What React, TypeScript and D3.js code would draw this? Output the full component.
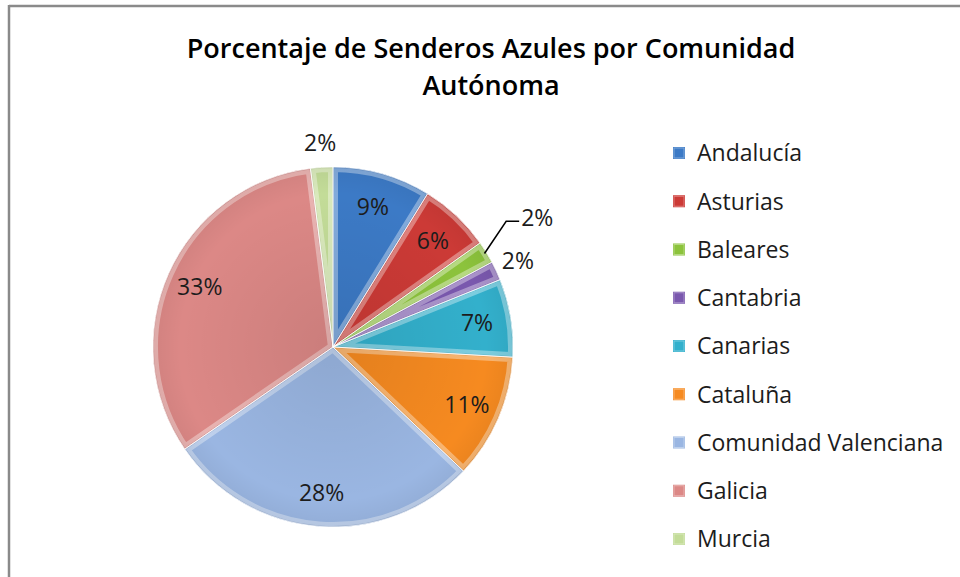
import React from "react";
import * as d3 from "d3";

const categories = [
  "Andalucía",
  "Asturias",
  "Baleares",
  "Cantabria",
  "Canarias",
  "Cataluña",
  "Comunidad Valenciana",
  "Galicia",
  "Murcia",
];
const values = [8.8, 6.4, 2.0, 1.7, 7.0, 11.2, 28.3, 32.6, 2.0];
const colors = [
  "#3c7ac6",
  "#cc3a36",
  "#8cc33c",
  "#7a58ae",
  "#33b0cc",
  "#f68a20",
  "#9ab6e2",
  "#dc8886",
  "#c3dc98",
];
const title = ["Porcentaje de Senderos Azules por Comunidad", "Autónoma"];

const W = 960;
const H = 577;
const cx = 333;
const cy = 347;
const R = 180;
const FONT = "'Open Sans', 'Noto Sans', sans-serif";

export default function App() {
  const total = d3.sum(values);
  const pie = d3
    .pie<number>()
    .sort(null)
    .value((d) => d);
  const arcs = pie(values);
  const arc = d3.arc<d3.PieArcDatum<number>>().innerRadius(0).outerRadius(R);

  const polar = (a: number, r: number): [number, number] => [
    Math.sin(a) * r,
    -Math.cos(a) * r,
  ];

  const legendY = d3
    .scalePoint<string>()
    .domain(categories)
    .range([153, 539]);

  return (
    <svg
      width={W}
      height={H}
      style={{ position: "absolute", left: 0, top: 0, background: "#fff" }}
      fontFamily={FONT}
    >
      <defs>
        {arcs.map((a, i) => (
          <clipPath id={`clip${i}`} key={i}>
            <path d={arc(a) || ""} />
          </clipPath>
        ))}
        <radialGradient id="shade" cx="0.5" cy="0.5" r="0.5">
          <stop offset="0%" stopColor="#000" stopOpacity={0.08} />
          <stop offset="85%" stopColor="#000" stopOpacity={0} />
          <stop offset="100%" stopColor="#000" stopOpacity={0.05} />
        </radialGradient>
      </defs>
      <rect x={0} y={0} width={W} height={H} fill="#fff" />
      <line x1={9} y1={6} x2={W} y2={6} stroke="#8a8a8a" strokeWidth={2.5} />
      <line x1={9} y1={5} x2={9} y2={H} stroke="#8a8a8a" strokeWidth={2.5} />

      <text
        x={491}
        y={58}
        textAnchor="middle"
        fontSize={27}
        fontWeight={600}
        fill="#000"
      >
        {title[0]}
      </text>
      <text
        x={491}
        y={95}
        textAnchor="middle"
        fontSize={27}
        fontWeight={600}
        fill="#000"
      >
        {title[1]}
      </text>

      <g transform={`translate(${cx},${cy})`}>
        {arcs.map((a, i) => {
          const c = d3.color(colors[i])!;
          const light = d3.interpolateRgb(colors[i], "#ffffff")(0.45);
          const dark = c.darker(0.6).formatHex();
          return (
            <g key={i}>
              <path d={arc(a) || ""} fill={colors[i]} />
              <path
                d={arc(a) || ""}
                fill="none"
                stroke={light}
                strokeOpacity={0.8}
                strokeWidth={10}
                clipPath={`url(#clip${i})`}
              />
              <path
                d={arc(a) || ""}
                fill="none"
                stroke={dark}
                strokeOpacity={0.35}
                strokeWidth={2}
                clipPath={`url(#clip${i})`}
              />
            </g>
          );
        })}
        <circle r={R} fill="url(#shade)" />
        {arcs.map((a, i) => (
          <path
            key={`s${i}`}
            d={arc(a) || ""}
            fill="none"
            stroke="#ffffff"
            strokeOpacity={0.7}
            strokeWidth={1}
          />
        ))}

        {arcs.map((a, i) => {
          const pct = Math.round((values[i] / total) * 100);
          const mid = (a.startAngle + a.endAngle) / 2;
          const frac = values[i] / total;
          const label = `${pct}%`;
          if (frac > 0.04) {
            const [x, y] = polar(mid, 146);
            return (
              <text
                key={`l${i}`}
                x={x}
                y={y}
                dy="0.35em"
                textAnchor="middle"
                fontSize={23}
                fill="#1c1c1c"
              >
                {label}
              </text>
            );
          }
          if (categories[i] === "Baleares") {
            const [x0, y0] = polar(mid, R - 2);
            const [x1, y1] = polar(mid - 0.075, R + 34);
            const x2 = x1 + 13;
            return (
              <g key={`l${i}`}>
                <polyline
                  points={`${x0},${y0} ${x1},${y1} ${x2},${y1}`}
                  fill="none"
                  stroke="#000"
                  strokeWidth={1.5}
                />
                <text
                  x={x2 + 2}
                  y={y1}
                  dy="0.2em"
                  textAnchor="start"
                  fontSize={23}
                  fill="#1c1c1c"
                >
                  {label}
                </text>
              </g>
            );
          }
          const [x, y] = polar(mid, R + 24);
          return (
            <text
              key={`l${i}`}
              x={x}
              y={y}
              dy="0.35em"
              textAnchor="middle"
              fontSize={23}
              fill="#1c1c1c"
            >
              {label}
            </text>
          );
        })}
      </g>

      <g>
        {categories.map((c, i) => {
          const y = legendY(c)!;
          const light = d3.interpolateRgb(colors[i], "#ffffff")(0.35);
          return (
            <g key={c}>
              <rect x={673} y={y - 6} width={12} height={12} fill={colors[i]} />
              <rect
                x={674}
                y={y - 5}
                width={10}
                height={10}
                fill="none"
                stroke={light}
                strokeWidth={1}
              />
              <text x={697} y={y} dy="0.36em" fontSize={23} fill="#1c1c1c">
                {c}
              </text>
            </g>
          );
        })}
      </g>
    </svg>
  );
}
